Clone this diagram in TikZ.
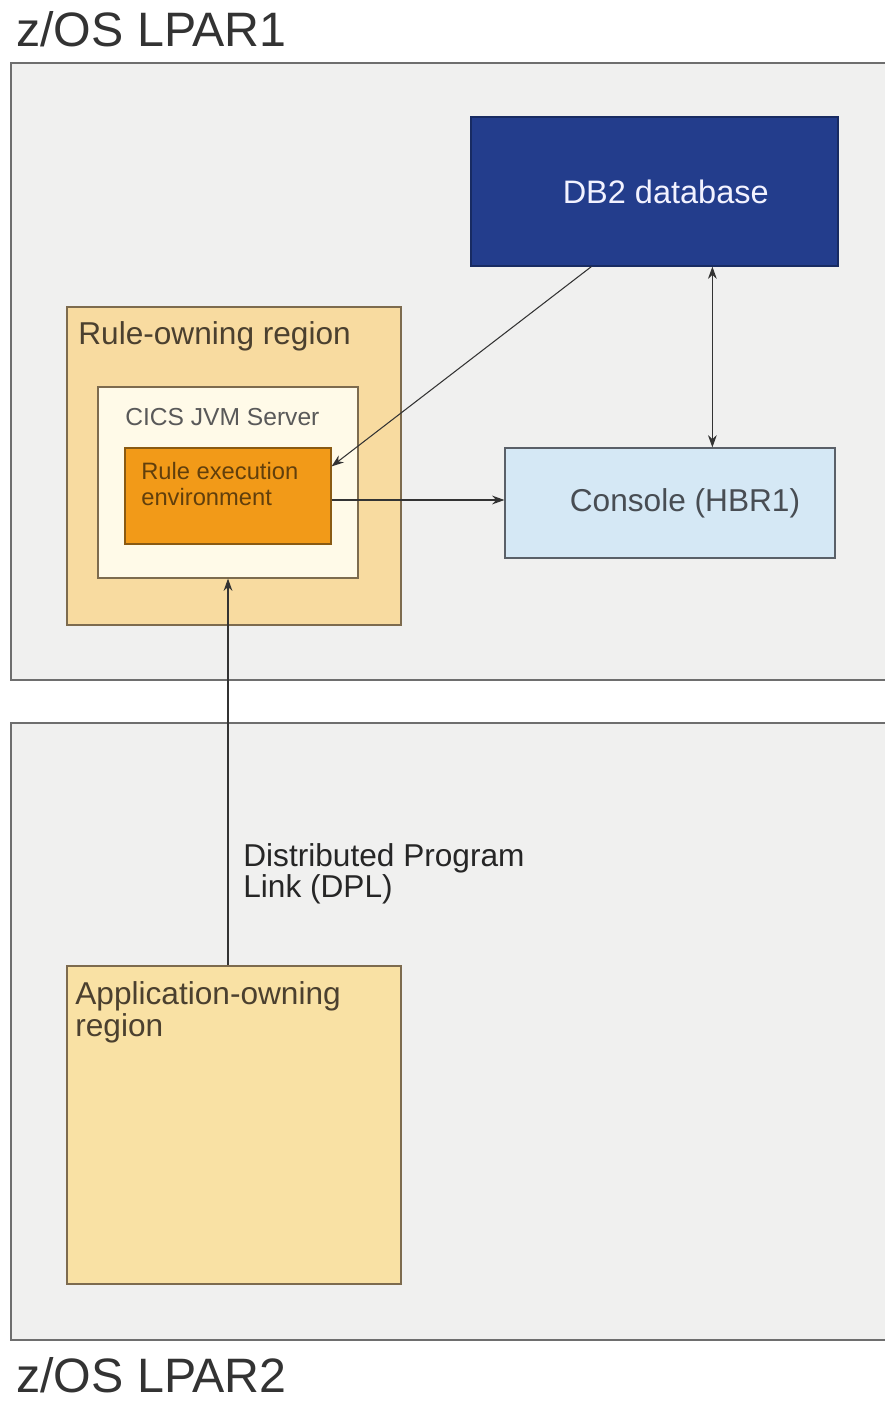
\documentclass[tikz,border=0pt]{standalone}
\usepackage{fontspec}
\setmainfont{Liberation Sans}
\usetikzlibrary{arrows.meta}
\definecolor{lparfill}{HTML}{F0F0EF}
\definecolor{lparline}{HTML}{6E6E6E}
\definecolor{dbfill}{HTML}{233D8C}
\definecolor{rorfill}{HTML}{F8DBA0}
\definecolor{aorfill}{HTML}{F9E1A4}
\definecolor{regline}{HTML}{7D6B4E}
\definecolor{jvmfill}{HTML}{FFFAE8}
\definecolor{reefill}{HTML}{F29A18}
\definecolor{reeline}{HTML}{8A5A12}
\definecolor{confill}{HTML}{D5E8F5}
\definecolor{conline}{HTML}{5A6068}
\definecolor{txt}{HTML}{333333}

\begin{document}
\begin{tikzpicture}[x=0.02cm,y=-0.02cm,
  lparbox/.style={draw=lparline,fill=lparfill,line width=1.2pt,inner sep=0pt},
  regbox/.style={draw=regline,line width=0.7pt,inner sep=0pt},
  title/.style={anchor=base west,inner sep=0pt,text=txt,font=\fontsize{27.5}{30}\selectfont},
  lbl/.style={inner sep=0pt,align=left,text=txt},
  conn/.style={draw=txt,line width=0.6pt},
  >={Stealth[length=7pt,width=5pt]}]
\useasboundingbox (0,0) rectangle (885,1402);

% the two LPARs
\node [lparbox,minimum width=17.58cm,minimum height=12.34cm] (lpar1) at (450.5,371.5) {};
\node [lparbox,minimum width=17.58cm,minimum height=12.34cm] (lpar2) at (450.5,1031.5) {};
\node [title] (t1) at (16,47) {z/OS LPAR1};
\node [title] (t2) at (16,1392) {z/OS LPAR2};

% LPAR1 contents
\node [draw=dbfill!70!black,fill=dbfill,line width=0.7pt,minimum width=7.34cm,minimum height=2.98cm,
  text=white!95!blue,font=\fontsize{18.5}{21}\selectfont] (db2) at (654.5,191.5) {\hspace{0.45cm}DB2 database};
\node [regbox,fill=rorfill,minimum width=6.68cm,minimum height=6.36cm] (ror) at (234,466) {};
\node [lbl,anchor=base west,font=\fontsize{18}{21}\selectfont,text=regline!60!black] (rorlbl) at (78,344) {Rule-owning region};
\node [regbox,fill=jvmfill,minimum width=5.2cm,minimum height=3.82cm] (cics) at (228,482.5) {};
\node [lbl,anchor=base west,font=\fontsize{14}{16}\selectfont,text=black!65] (cicslbl) at (125,425) {CICS JVM Server};
\node [draw=reeline,fill=reefill,line width=0.7pt,inner sep=0pt,minimum width=4.12cm,minimum height=1.92cm] (ree) at (228,496) {};
\node [lbl,anchor=north west,font=\fontsize{13.5}{14.7}\selectfont,text=reeline!70!black] (reelbl) at (141,462) {Rule execution\\environment};
\node [draw=conline,fill=confill,line width=0.7pt,minimum width=6.6cm,minimum height=2.2cm,
  text=conline!80!black,font=\fontsize{18}{21}\selectfont] (con) at (670,503) {\hspace{0.6cm}Console (HBR1)};

% LPAR2 contents
\node [regbox,fill=aorfill,minimum width=6.68cm,minimum height=6.36cm] (aor) at (234,1125) {};
\node [lbl,anchor=north west,font=\fontsize{18}{18.2}\selectfont,text=regline!60!black] (aorlbl) at (75,981) {Application-owning\\region};
\node [lbl,anchor=north west,font=\fontsize{18}{17.6}\selectfont,text=black!85] (dpl) at (243,843) {Distributed Program\\Link (DPL)};

% connectors
\coordinate (dbout) at ([xshift=2.42cm]db2.south west);
\coordinate (dbcon) at ([xshift=4.84cm]db2.south west);
\draw [conn,->] (dbout) -- ([yshift=-0.38cm]ree.north east);
\draw [conn,<->] (dbcon) -- (dbcon |- con.north);
\draw [conn,->] ([yshift=-0.08cm]ree.east) -- ([yshift=-0.08cm]ree.east -| con.west);
\draw [conn,->] (cics.south |- aor.north) -- (cics.south);
\end{tikzpicture}
\end{document}
